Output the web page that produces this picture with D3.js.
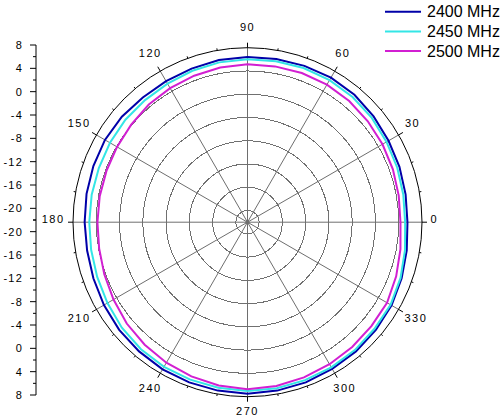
<!DOCTYPE html>
<html>
<head>
    <title>polar pattern</title>
    <script src="https://d3js.org/d3.v7.min.js"></script>
    <style>
        body { margin: 0; background: #fff; }
        text { font-family: Arial, 'Liberation Sans', sans-serif; fill: #000; }
        .albl { font-size: 11px; letter-spacing: 1.5px; }
        .leg { font-size: 16px; }
        .crisp { shape-rendering: crispEdges; }
    </style>
</head>
<body>
    <svg id="polar" width="504" height="416"></svg>

    <script>
        // angles in degrees, every 10
        var angles = d3.range(0, 360, 10);

        var gain2400 = [5.5, 5.6, 5.8, 6.0, 6.3, 6.6, 6.7, 6.6, 6.5, 6.4, 6.3, 6.1,
                        6.0, 6.0, 6.2, 6.3, 6.2, 6.1, 6.0, 6.0, 6.2, 6.5, 6.8, 7.0,
                        7.2, 7.3, 7.4, 7.5, 7.4, 7.3, 7.1, 7.0, 6.8, 6.6, 6.2, 5.8];
        var gain2450 = [5.1, 5.2, 5.4, 5.6, 5.9, 6.1, 6.2, 6.2, 6.1, 6.0, 5.9, 5.7,
                        5.5, 5.4, 5.4, 5.3, 5.2, 5.2, 5.2, 5.3, 5.5, 5.8, 6.2, 6.5,
                        6.7, 6.8, 6.9, 7.0, 7.0, 6.9, 6.8, 6.7, 6.5, 6.4, 6.0, 5.5];
        var gain2500 = [4.3, 4.4, 4.6, 4.8, 5.0, 5.2, 5.3, 5.3, 5.2, 5.15, 5.0, 4.8,
                        4.6, 4.4, 4.1, 3.9, 3.8, 3.8, 3.8, 3.9, 4.2, 4.6, 5.1, 5.5,
                        5.9, 6.2, 6.5, 6.7, 6.6, 6.4, 6.2, 6.0, 5.8, 5.7, 5.2, 4.7];

        var seriesNames = ["2400 MHz", "2450 MHz", "2500 MHz"];
        var seriesColors = ["#0000a8", "#33e6e6", "#d21fd2"];

        var gridLevels = [-20, -16, -12, -8, -4, 0, 4];
        var axisLabels = [8, 4, 0, -4, -8, -12, -16, -20];
        var angleLabels = d3.range(0, 360, 30);

        var cx = 247.5, cy = 222.2, R = 174.5;
        var svg = d3.select("#polar");

        var r = d3.scaleLinear().domain([-22, 8]).range([0, R]);

        function pt(deg, rad)
        {
            var a = deg * Math.PI / 180;
            return [cx + rad * Math.cos(a), cy - rad * Math.sin(a)];
        }

        var g = svg.append("g");

        // grid circles
        g.selectAll("circle.grid")
            .data(gridLevels)
            .enter().append("circle")
            .attr("class", "crisp")
            .attr("cx", cx).attr("cy", cy)
            .attr("r", function(d) { return r(d); })
            .attr("fill", "none")
            .attr("stroke", "#707070")
            .attr("stroke-width", 1);

        // spokes
        g.selectAll("line.spoke")
            .data(angleLabels)
            .enter().append("line")
            .attr("x1", cx).attr("y1", cy)
            .attr("x2", function(d) { return pt(d, R)[0]; })
            .attr("y2", function(d) { return pt(d, R)[1]; })
            .attr("stroke", "#6e6e6e")
            .attr("stroke-width", 1);

        g.append("circle")
            .attr("cx", cx).attr("cy", cy).attr("r", 2)
            .attr("fill", "#6e6e6e");

        // curves
        var allSeries = [gain2400, gain2450, gain2500];
        var line = d3.lineRadial()
            .angle(function(d) { return (90 - d[0]) * Math.PI / 180; })
            .radius(function(d) { return r(d[1]); })
            .curve(d3.curveLinearClosed);

        allSeries.forEach(function(vals, i)
        {
            var pts = angles.map(function(a, j) { return [a, vals[j]]; });
            g.append("path")
                .attr("transform", "translate(" + cx + "," + cy + ")")
                .attr("d", line(pts))
                .attr("fill", "none")
                .attr("stroke", seriesColors[i])
                .attr("stroke-width", 2);
        });

        // outer circle + ticks
        g.append("circle")
            .attr("cx", cx).attr("cy", cy).attr("r", R)
            .attr("fill", "none")
            .attr("stroke", "#000")
            .attr("stroke-width", 1);

        g.selectAll("line.atick")
            .data(d3.range(0, 360, 10))
            .enter().append("line")
            .attr("x1", function(d) { return pt(d, R)[0]; })
            .attr("y1", function(d) { return pt(d, R)[1]; })
            .attr("x2", function(d) { return pt(d, R + (d % 30 == 0 ? 5 : 2))[0]; })
            .attr("y2", function(d) { return pt(d, R + (d % 30 == 0 ? 5 : 2))[1]; })
            .attr("stroke", "#000")
            .attr("stroke-width", 1);

        // angle labels
        g.selectAll("text.albl")
            .data(angleLabels)
            .enter().append("text")
            .attr("class", "albl")
            .attr("x", function(d)
            {
                var a = d * Math.PI / 180;
                var w = String(d).length * 7.6;
                return cx + 183 * Math.cos(a) + Math.cos(a) * w / 2;
            })
            .attr("y", function(d)
            {
                var a = d * Math.PI / 180;
                var s = Math.sin(a), c = Math.abs(Math.cos(a));
                return cy - 192 * s - 3 + (s < -0.1 && c > 0.1 ? 2.5 : 0);
            })
            .attr("text-anchor", "middle")
            .attr("dominant-baseline", "central")
            .text(function(d) { return d; });

        // left radial axis, mirrored
        var yTop = d3.scaleLinear().domain([8, -22]).range([45, 220]);
        var yBot = d3.scaleLinear().domain([-22, 8]).range([220, 395]);
        var ax = 36;

        g.append("line")
            .attr("x1", ax).attr("x2", ax)
            .attr("y1", 45).attr("y2", 395)
            .attr("stroke", "#000");

        var tickVals = d3.range(8, -23, -2);
        [yTop, yBot].forEach(function(sc)
        {
            g.selectAll(null)
                .data(tickVals)
                .enter().append("line")
                .attr("x1", function(d) { return d % 4 == 0 ? ax - 6 : ax - 3; })
                .attr("x2", ax)
                .attr("y1", function(d) { return sc(d); })
                .attr("y2", function(d) { return sc(d); })
                .attr("stroke", "#000");

            g.selectAll(null)
                .data(axisLabels)
                .enter().append("text")
                .attr("class", "albl")
                .style("letter-spacing", "1.2px")
                .attr("x", 23)
                .attr("y", function(d) { return sc(d); })
                .attr("text-anchor", "end")
                .attr("dominant-baseline", "central")
                .text(function(d) { return d; });
        });

        // legend
        var leg = svg.append("g");
        seriesNames.forEach(function(name, i)
        {
            var y = 11.7 + i * 19.7;
            leg.append("line")
                .attr("x1", 385).attr("x2", 421)
                .attr("y1", y).attr("y2", y)
                .attr("stroke", seriesColors[i])
                .attr("stroke-width", 2);
            leg.append("text")
                .attr("class", "leg")
                .attr("x", 427)
                .attr("y", y)
                .attr("dominant-baseline", "central")
                .text(name);
        });
    </script>
</body>
</html>
